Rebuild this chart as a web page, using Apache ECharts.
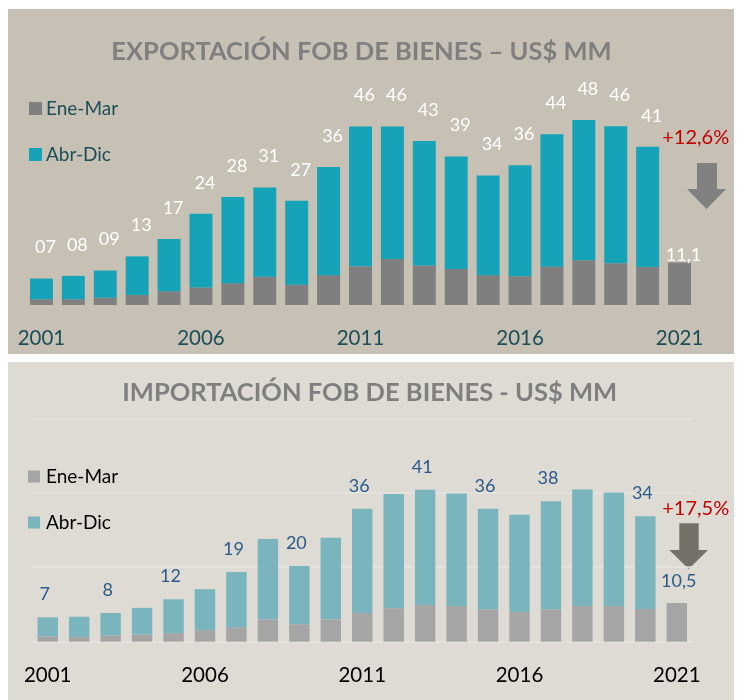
<!DOCTYPE html>
<html><head><meta charset="utf-8">
<script src="https://cdn.jsdelivr.net/npm/echarts@6/dist/echarts.min.js"></script>
<style>html,body{margin:0;padding:0;background:#fff}#c{width:744px;height:700px}</style>
</head><body><div id="c"></div>
<script>
// ---------- DATA ----------
const years = ['2001','2002','2003','2004','2005','2006','2007','2008','2009','2010','2011','2012','2013','2014','2015','2016','2017','2018','2019','2020','2021'];
// Exportaciones (US$ MM, miles de millones)
const expEneMar = [1.5,1.5,1.9,2.6,3.6,4.6,5.7,7.4,5.3,7.8,10.1,12.0,10.3,9.4,7.8,7.5,10.0,11.7,10.9,9.9,11.1];
const expTotal  = [6.9,7.6,9.0,12.7,17.2,23.8,28.2,30.7,27.2,36.0,46.6,46.6,42.8,38.8,33.8,36.5,44.6,48.3,46.7,41.3,null];
const expLabels = ['07','08','09','13','17','24','28','31','27','36','46','46','43','39','34','36','44','48','46','41',''];
const expLastLabel = '11,1';
const expChange = '+12,6%';
// Importaciones
const impEneMar = [1.45,1.3,1.7,1.9,2.3,3.1,3.9,6.0,4.7,6.0,7.7,9.0,9.85,9.6,8.7,8.0,8.7,9.6,9.6,8.8,10.4];
const impTotal  = [6.55,6.7,7.7,9.1,11.4,14.1,18.7,27.6,20.3,27.9,35.7,39.7,40.8,39.8,35.7,34.1,37.7,40.9,40.1,33.7,null];
const impLabels = ['7','','8','','12','','19','','20','','36','','41','','36','','38','','','34',''];
const impLastLabel = '10,5';
const impChange = '+17,5%';

const expAbrDic = expTotal.map((t,i)=> t==null ? null : +(t-expEneMar[i]).toFixed(2));
const impAbrDic = impTotal.map((t,i)=> t==null ? null : +(t-impEneMar[i]).toFixed(2));
const last = years.length-1;

const FONT = 'Lato';
const chart = echarts.init(document.getElementById('c'), null, {renderer:'canvas'});

const expEneData = expEneMar.map((v,i)=> i===last ? {value:v, label:{show:true, position:'top', distance:-2, offset:[4,0], formatter:expLastLabel, color:'#ffffff', fontSize:18, fontFamily:FONT}} : v);
const impEneData = impEneMar.map((v,i)=> i===last ? {value:v, label:{show:true, position:'top', distance:13, offset:[2,0], formatter:impLastLabel, color:'#2c5a89', fontSize:18, fontFamily:FONT}} : v);

const option = {
  animation:false,
  textStyle:{fontFamily:FONT},
  graphic:[
    {type:'rect', z:-10, shape:{x:8,y:9,width:726,height:345}, style:{fill:'#c7c1b5'}},
    {type:'rect', z:-10, shape:{x:8,y:362,width:726,height:338}, style:{fill:'#dedbd5'}},
    {type:'text', x:361.5, y:52, style:{text:'EXPORTACIÓN FOB DE BIENES – US$ MM', fill:'#7f7f7f', font:'bold 25.5px Lato', textAlign:'center', textVerticalAlign:'middle'}},
    {type:'text', x:369.7, y:392.3, style:{text:'IMPORTACIÓN FOB DE BIENES - US$ MM', fill:'#7f7f7f', font:'bold 25.5px Lato', textAlign:'center', textVerticalAlign:'middle'}},
    {type:'text', x:695.7, y:138, style:{text:expChange, fill:'#c00000', font:'20px Lato', textAlign:'center', textVerticalAlign:'middle'}},
    {type:'text', x:695.7, y:509, style:{text:impChange, fill:'#c00000', font:'20px Lato', textAlign:'center', textVerticalAlign:'middle'}},
    {type:'polygon', shape:{points:[[697,163],[717,163],[717,189],[726,189],[706.5,209],[687,189],[697,189]]}, style:{fill:'#808080'}},
    {type:'polygon', shape:{points:[[679.3,523.3],[698.7,523.3],[698.7,550],[708,550],[688.7,569],[669.3,550],[679.3,550]]}, style:{fill:'#757068'}}
  ],
  legend:[
    {left:29, top:99, padding:0, orient:'vertical', itemGap:27, itemWidth:13, itemHeight:13, icon:'rect',
     textStyle:{fontSize:19, lineHeight:18, color:'#1d4d56', fontFamily:FONT, padding:[0,0,0,-1]}, data:['Ene-Mar','Abr-Dic'], selectedMode:false},
    {left:28, top:467, padding:0, orient:'vertical', itemGap:27, itemWidth:12, itemHeight:12, icon:'rect',
     textStyle:{fontSize:19, lineHeight:18, color:'#000000', fontFamily:FONT, padding:[0,0,0,1]}, data:['Ene-Mar ','Abr-Dic '], selectedMode:false,
     formatter:(n)=>n.trim()}
  ],
  grid:[
    {left:25.5, right:48.5, top:113.5, bottom:395},
    {left:32, right:51.5, top:418.3, bottom:58.3}
  ],
  xAxis:[
    {type:'category', gridIndex:0, data:years, axisLine:{show:false}, axisTick:{show:false},
     axisLabel:{interval:4, margin:23, color:'#1d4d56', fontSize:20.5, fontFamily:FONT}},
    {type:'category', gridIndex:1, data:years, axisLine:{show:false}, axisTick:{show:false},
     axisLabel:{interval:4, margin:23, color:'#000000', fontSize:20.5, fontFamily:FONT}}
  ],
  yAxis:[
    {type:'value', gridIndex:0, min:0, max:50, show:false, splitLine:{show:false}},
    {type:'value', gridIndex:1, min:0, max:60, interval:20, axisLabel:{show:false}, axisLine:{show:false}, axisTick:{show:false},
     splitLine:{show:true, lineStyle:{color:'#e7e5e1', width:1.5}}}
  ],
  series:[
    {name:'Ene-Mar', type:'bar', stack:'e', xAxisIndex:0, yAxisIndex:0, barCategoryGap:'28%', data:expEneData, itemStyle:{color:'#7f7f7f'}},
    {name:'Abr-Dic', type:'bar', stack:'e', xAxisIndex:0, yAxisIndex:0, data:expAbrDic, itemStyle:{color:'#16a3b7'},
     label:{show:true, position:'top', distance:22, offset:[4,0], color:'#ffffff', fontSize:18, fontFamily:FONT,
            formatter:(p)=>expLabels[p.dataIndex]}},
    {name:'Ene-Mar ', type:'bar', stack:'i', xAxisIndex:1, yAxisIndex:1, barCategoryGap:'35%', data:impEneData, itemStyle:{color:'#a5a5a5'}},
    {name:'Abr-Dic ', type:'bar', stack:'i', xAxisIndex:1, yAxisIndex:1, data:impAbrDic, itemStyle:{color:'#7ab4bc'},
     label:{show:true, position:'top', distance:14, offset:[-3,0], color:'#2c5a89', fontSize:18, fontFamily:FONT,
            formatter:(p)=>impLabels[p.dataIndex]}}
  ]
};
chart.setOption(option);
</script>
</body></html>
